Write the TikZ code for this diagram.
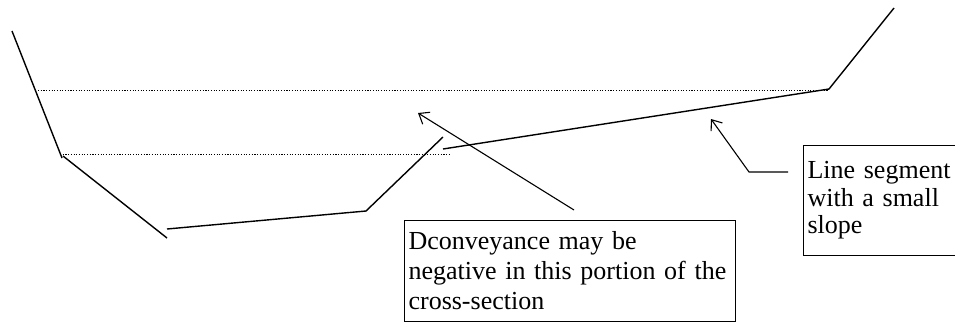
\documentclass[tikz,border=0pt]{standalone}
\usepackage{fontspec}
\setmainfont{Liberation Serif}
\usetikzlibrary{positioning, arrows.meta, calc}

\begin{document}
\begin{tikzpicture}[x=1pt, y=-1pt,
    bank/.style={black, line width=1.4pt},
    wlev/.style={black, line width=0.9pt, dash pattern=on 1.1pt off 1.6pt},
    note/.style={draw=black, line width=1.1pt, anchor=north west, align=left,
                 inner xsep=4pt, inner ysep=0pt, font=\fontsize{26}{30}\selectfont},
    arr/.style={-{Straight Barb[length=9pt, width=14pt]}, black, line width=1.1pt}]
    \useasboundingbox (0,0) rectangle (955,322);
    % cross-section
    \coordinate (ltop) at (12,31);
    \coordinate (lknee) at (62,158);
    \coordinate (lknee2) at (63,156);
    \coordinate (lbot) at (167,238);
    \coordinate (fl) at (167,229);
    \coordinate (fr) at (366,211);
    \coordinate (mtop) at (443,137);
    \coordinate (sl) at (443,149);
    \coordinate (sr) at (829,89);
    \coordinate (rtop) at (894,8);
    \draw[bank] (ltop) -- (lknee);
    \draw[bank] (lknee2) -- (lbot);
    \draw[bank] (fl) -- (fr) -- (mtop);
    \draw[bank] (sl) -- (sr) -- (rtop);
    % water levels
    \draw[wlev] (38,90) -- (829,90);
    \draw[wlev] (60,154) -- (449,154);
    % notes
    \node[note, text width=323pt, minimum height=101pt] (neg) at (404,220)
        {Dconveyance may be\\negative in this portion of the\\cross-section};
    \node[note, text width=170pt, minimum height=110pt, font=\fontsize{26}{27.5}\selectfont] (slope) at (803,145)
        {Line segment\\with a small\\slope};
    \coordinate (negtail) at (574,210);
    \coordinate (negtip) at (418,113);
    \coordinate (slbend) at (749,172);
    \coordinate (sltail) at (788,172);
    \coordinate (sltip) at (711,119);
    \draw[arr] (negtail) -- (negtip);
    \draw[arr] (sltail) -- (slbend) -- (sltip);
\end{tikzpicture}
\end{document}
